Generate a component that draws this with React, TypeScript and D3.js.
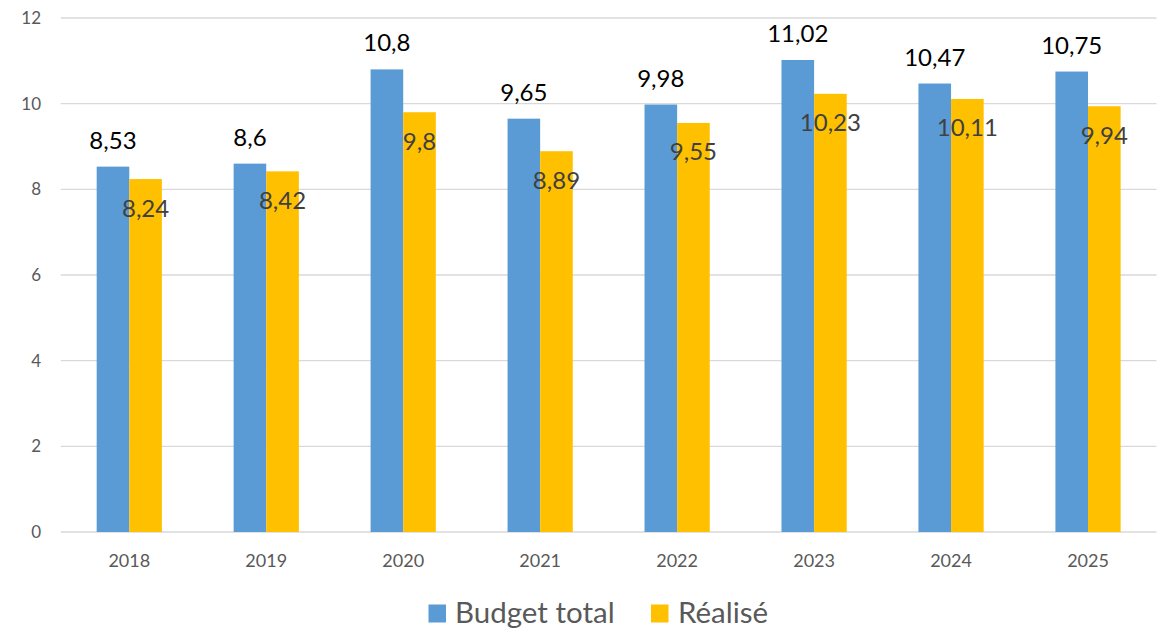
import React from "react";
import * as d3 from "d3";

const years = ["2018", "2019", "2020", "2021", "2022", "2023", "2024", "2025"];
const budgetTotal = [8.53, 8.6, 10.8, 9.65, 9.98, 11.02, 10.47, 10.75];
const realise = [8.24, 8.42, 9.8, 8.89, 9.55, 10.23, 10.11, 9.94];
const seriesNames = ["Budget total", "Réalisé"];
const yTicks = [0, 2, 4, 6, 8, 10, 12];

const colors = ["#5B9BD5", "#FFC000"];
const labelColors = ["#000000", "#404040"];
const font = "Lato, 'Open Sans', sans-serif";

const fmt = (v: number) => String(v).replace(".", ",");

const App = () => {
  const width = 1159;
  const height = 629;

  const y = d3.scaleLinear().domain([0, 12]).range([532, 18]);
  const x0 = d3.scaleBand().domain(years).range([60.8, 1156.5]).padding(0);
  const x1 = d3
    .scaleBand()
    .domain(seriesNames)
    .range([0, x0.bandwidth()])
    .paddingInner(0)
    .paddingOuter(1.1);

  const series = [budgetTotal, realise];

  return (
    <svg
      width={width}
      height={height}
      style={{ position: "absolute", left: 0, top: 0, fontFamily: font }}
    >
      <rect width={width} height={height} fill="#ffffff" />

      {/* grid + y ticks */}
      {yTicks.map((t) => (
        <g key={t}>
          <line
            x1={x0.range()[0]}
            x2={x0.range()[1]}
            y1={y(t)}
            y2={y(t)}
            stroke="#D9D9D9"
            strokeWidth={1.3}
          />
          <text
            x={41}
            y={y(t)}
            dy="0.36em"
            textAnchor="end"
            fontSize={17}
            fill="#595959"
          >
            {t}
          </text>
        </g>
      ))}

      {/* bars */}
      {series.map((vals, si) =>
        vals.map((v, i) => (
          <rect
            key={`${si}-${i}`}
            x={x0(years[i])! + x1(seriesNames[si])!}
            y={y(v)}
            width={x1.bandwidth()}
            height={y(0) - y(v)}
            fill={colors[si]}
          />
        ))
      )}

      {/* value labels */}
      {series.map((vals, si) =>
        vals.map((v, i) => (
          <text
            key={`l-${si}-${i}`}
            x={x0(years[i])! + x1(seriesNames[si])! + x1.bandwidth() / 2}
            y={si === 0 ? y(v) - 18 : y(v) + 37.5}
            textAnchor="middle"
            fontSize={24}
            fill={labelColors[si]}
          >
            {fmt(v)}
          </text>
        ))
      )}

      {/* x axis labels */}
      {years.map((yr) => (
        <text
          key={yr}
          x={x0(yr)! + x0.bandwidth() / 2}
          y={567}
          textAnchor="middle"
          fontSize={18}
          fill="#595959"
        >
          {yr}
        </text>
      ))}

      {/* legend */}
      <g>
        <rect x={428.5} y={604.5} width={17.5} height={18} fill={colors[0]} />
        <text x={455} y={622.7} fontSize={29.5} fill="#595959">
          {seriesNames[0]}
        </text>
        <rect x={651} y={604.5} width={17.5} height={18} fill={colors[1]} />
        <text x={678} y={622.7} fontSize={29.5} fill="#595959">
          {seriesNames[1]}
        </text>
      </g>
    </svg>
  );
};

export default App;
